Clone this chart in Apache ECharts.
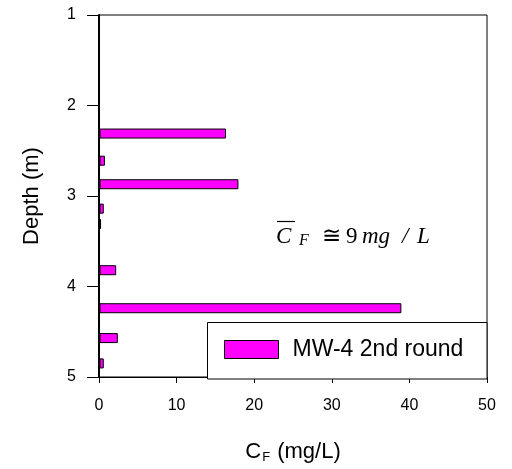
<!DOCTYPE html>
<html>
<head>
<meta charset="utf-8">
<script src="https://cdn.jsdelivr.net/npm/echarts@6/dist/echarts.min.js"></script>
<style>html,body{margin:0;padding:0;background:#fff}#c{width:512px;height:469px}</style>
</head>
<body>
<div id="c"></div>
<script>
// Data
var depths = [2.31, 2.61, 2.87, 3.14, 3.31, 3.82, 4.24, 4.57, 4.85];
var concentrations = [16.3, 0.7, 17.9, 0.55, 0.2, 2.15, 38.9, 2.36, 0.55];
var seriesName = 'MW-4 2nd round';
var xTicks = [0, 10, 20, 30, 40, 50];
var yTicks = [1, 2, 3, 4, 5];

var sans = "'Liberation Sans', Arial, sans-serif";
var serif = "'Liberation Serif', 'Times New Roman', serif";

var data = depths.map(function (d, i) { return [concentrations[i], d]; });

var chart = echarts.init(document.getElementById('c'));
chart.setOption({
  animation: false,
  grid: { left: 99, right: 25, top: 15, bottom: 90, show: true, borderColor: '#000', borderWidth: 1 },
  xAxis: {
    type: 'value', min: xTicks[0], max: xTicks[xTicks.length - 1], interval: 10,
    splitLine: { show: false },
    axisLine: { show: true, lineStyle: { color: '#000', width: 1 } },
    axisTick: { show: true, inside: false, length: 6, lineStyle: { color: '#000' } },
    axisLabel: { color: '#000', fontSize: 16, fontFamily: sans, margin: 21 },
    name: '{a|C}{b|F}{a| (mg/L)}',
    nameLocation: 'middle', nameGap: 62,
    nameTextStyle: {
      color: '#000', fontFamily: sans,
      rich: {
        a: { fontSize: 22, fontFamily: sans, color: '#000' },
        b: { fontSize: 13, fontFamily: sans, color: '#000', padding: [12, 1, 0, 1] }
      }
    }
  },
  yAxis: {
    type: 'value', min: yTicks[0], max: yTicks[yTicks.length - 1], interval: 1, inverse: true,
    splitLine: { show: false },
    axisLine: { show: true, lineStyle: { color: '#000', width: 2 } },
    axisTick: { show: true, inside: false, length: 12, lineStyle: { color: '#000' } },
    axisLabel: { color: '#000', fontSize: 16, fontFamily: sans, margin: 23 },
    name: 'Depth (m)', nameLocation: 'middle', nameGap: 56, nameRotate: 90,
    nameTextStyle: { color: '#000', fontSize: 22, fontFamily: sans }
  },
  legend: {
    show: true, left: 219, top: 333, itemWidth: 54, itemHeight: 18, itemGap: 10,
    textStyle: { color: '#000', fontSize: 23, fontFamily: sans, padding: [0, 0, 0, 9] },
    data: [{ name: seriesName, icon: 'rect', itemStyle: { color: '#ff00ff', borderColor: '#000', borderWidth: 1 } }]
  },
  graphic: [
    { type: 'rect', z: 1, shape: { x: 207.5, y: 322.5, width: 279.5, height: 56.5 },
      style: { fill: '#fff', stroke: '#000', lineWidth: 1 } },
    { type: 'text', left: 276, top: 225, z: 10,
      style: {
        text: '{c|C}{s|F}{n|\u2245}{m|9}{i|mg}{sl|/}{i|L}',
        rich: {
          c: { fontFamily: serif, fontStyle: 'italic', fontSize: 23, fill: '#000', width: 23 },
          s: { fontFamily: serif, fontStyle: 'italic', fontSize: 16, fill: '#000', width: 23, padding: [8, 0, 0, 0] },
          n: { fontFamily: serif, fontSize: 23, fill: '#000', width: 24 },
          m: { fontFamily: serif, fontSize: 23, fill: '#000', width: 16 },
          i: { fontFamily: serif, fontStyle: 'italic', fontSize: 23, fill: '#000', width: 40 },
          sl: { fontFamily: serif, fontStyle: 'italic', fontSize: 23, fill: '#000', width: 15 }
        }
      }
    },
    { type: 'line', z: 10, shape: { x1: 277, y1: 221.5, x2: 295, y2: 221.5 }, style: { stroke: '#000', lineWidth: 1.2 } }
  ],
  series: [{
    type: 'custom', name: seriesName,
    coordinateSystem: 'cartesian2d',
    encode: { x: 0, y: 1 },
    data: data,
    renderItem: function (params, api) {
      var p0 = api.coord([0, api.value(1)]);
      var p1 = api.coord([api.value(0), api.value(1)]);
      var h = 9;
      return {
        type: 'rect',
        shape: { x: p0[0] + 1, y: p0[1] - h / 2, width: p1[0] - p0[0] - 1, height: h },
        style: { fill: '#ff00ff', stroke: '#000', lineWidth: 1 }
      };
    },
    itemStyle: { color: '#ff00ff', borderColor: '#000', borderWidth: 1 }
  }]
});
</script>
</body>
</html>
